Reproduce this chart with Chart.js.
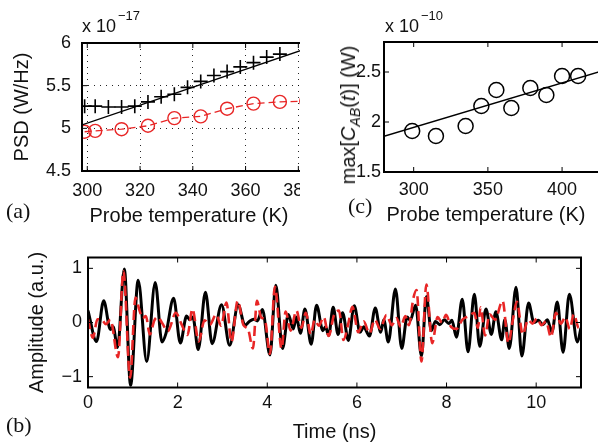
<!DOCTYPE html>
<html><head><meta charset="utf-8">
<script src="https://cdn.jsdelivr.net/npm/chart.js@4.4.1/dist/chart.umd.min.js"></script>
<style>
html,body{margin:0;padding:0;background:#fff;}
#fig{position:relative;width:598px;height:447px;overflow:hidden;font-family:"Liberation Sans",Arial,sans-serif;color:#111;}
.panel{position:absolute;overflow:hidden;}
canvas{display:block;}
.lbl{position:absolute;white-space:nowrap;line-height:1;}
.serif{font-family:"Liberation Serif","Times New Roman",serif;font-size:22px;line-height:22px;}
</style></head><body>
<div id="fig">
  <div class="panel" style="left:0;top:0;width:300px;height:230px"><canvas id="ca" width="310" height="230"></canvas></div>
  <div class="panel" style="left:300px;top:0;width:298px;height:230px"><canvas id="cc" width="310" height="230"></canvas></div>
  <div class="panel" style="left:0;top:230px;width:598px;height:217px"><canvas id="cb" width="598" height="217"></canvas></div>

  <span class="lbl" style="left:82px;top:17px;font-size:18px">x 10</span>
  <span class="lbl" style="left:118px;top:9px;font-size:13px">&minus;17</span>
  <span class="lbl" style="left:385px;top:17px;font-size:18px">x 10</span>
  <span class="lbl" style="left:421px;top:9px;font-size:13px">&minus;10</span>

  <div class="lbl" style="left:350px;top:115px;font-size:20px;transform:translate(-50%,-50%) rotate(-90deg);">max[<i>C</i><sub style="font-size:14px"><i>AB</i></sub>(<i>t</i>)] (W)</div>

  <span class="lbl" style="left:189px;top:215px;transform:translate(-50%,-50%);font-size:20px;">Probe temperature (K)</span>
  <span class="lbl" style="left:486px;top:214px;transform:translate(-50%,-50%);font-size:20px;">Probe temperature (K)</span>

  <span class="lbl serif" style="left:6px;top:200px">(a)</span>
  <span class="lbl serif" style="left:348px;top:195px">(c)</span>
  <span class="lbl serif" style="left:6px;top:414px">(b)</span>
</div>
<script>
// ---------- Panel (a): PSD vs probe temperature ----------
const tempPlus = [299,303,308,313,318,323,328,333,338,343,348,353,358,363,368,373];
const psdPlus  = [5.26,5.26,5.25,5.25,5.26,5.31,5.37,5.40,5.48,5.55,5.62,5.665,5.72,5.77,5.835,5.87];
const tempCirc = [299,303,313,323,333,343,353,363,373,383];
const psdCirc  = [4.96,4.97,4.99,5.03,5.12,5.14,5.23,5.29,5.31,5.32];
const fitTempA = [298,383];
const fitPsdA  = [5.04,5.935];
const xTicksA = [300,320,340,360,380];
const yTicksA = [4.5,5,5.5,6];

// ---------- Panel (c): max C_AB vs probe temperature ----------
const tempC = [299,315,335,345.6,355.7,365.8,378.6,389.4,400,410.8];
const maxC  = [1.91,1.86,1.96,2.16,2.32,2.14,2.34,2.27,2.46,2.46];
const fitTempC = [280,430];
const fitMaxC  = [1.857,2.525];
const xTicksC = [300,350,400];
const yTicksC = [1.5,2,2.5];

// ---------- Panel (b): waveforms ----------
const timeBlack = [0.00,0.19,0.35,0.50,0.56,0.66,0.81,0.95,1.12,1.31,1.50,1.65,1.74,1.91,2.06,2.20,2.27,2.34,2.46,2.62,2.77,2.98,3.16,3.35,3.50,3.60,3.70,3.78,3.89,4.06,4.19,4.34,4.47,4.58,4.65,4.74,4.84,4.98,5.10,5.24,5.30,5.37,5.47,5.58,5.68,5.81,5.94,6.07,6.15,6.28,6.41,6.53,6.60,6.70,6.86,7.00,7.12,7.19,7.31,7.44,7.55,7.66,7.75,7.85,7.95,8.05,8.12,8.22,8.35,8.48,8.62,8.74,8.88,9.00,9.10,9.23,9.30,9.40,9.55,9.68,9.83,9.95,10.05,10.15,10.25,10.35,10.47,10.60,10.74,10.92,11.00];
const ampBlack  = [0.22,-0.35,0.40,-0.13,-0.08,-0.46,0.99,-1.16,0.78,-0.72,0.74,-0.36,-0.20,0.45,-0.38,0.12,0.05,0.10,-0.50,0.56,-0.39,0.33,-0.42,0.33,-0.05,0.02,0.06,0.03,0.24,-0.60,0.69,-0.48,0.15,-0.12,0.10,-0.20,0.25,-0.40,0.32,-0.15,-0.08,-0.24,0.28,-0.22,0.18,-0.33,0.31,-0.18,-0.08,-0.25,0.27,-0.18,0.05,-0.36,0.62,-0.48,0.10,0.04,0.32,-0.62,0.48,-0.15,0.02,-0.04,0.05,-0.02,0.04,-0.27,0.43,-0.54,0.52,-0.44,0.25,-0.22,0.20,-0.32,0.05,-0.48,0.65,-0.62,0.36,0.00,0.04,-0.04,0.05,-0.18,0.38,-0.55,0.52,-0.36,-0.10];
const timeRed = [0.00,0.11,0.21,0.31,0.40,0.50,0.67,0.79,0.94,1.06,1.15,1.22,1.29,1.38,1.48,1.56,1.66,1.78,1.96,2.08,2.22,2.33,2.47,2.60,2.72,2.86,2.97,3.09,3.20,3.34,3.47,3.57,3.68,3.77,3.86,3.95,4.06,4.17,4.32,4.41,4.52,4.65,4.76,4.86,4.97,5.06,5.15,5.26,5.37,5.49,5.60,5.70,5.80,5.90,6.03,6.15,6.28,6.40,6.52,6.66,6.78,6.88,6.98,7.08,7.16,7.26,7.33,7.44,7.55,7.68,7.80,7.90,7.99,8.10,8.22,8.35,8.50,8.62,8.70,8.76,8.86,8.96,9.08,9.25,9.38,9.48,9.57,9.70,9.82,9.92,10.02,10.12,10.22,10.33,10.44,10.55,10.65,10.75,10.84,10.95,11.00];
const ampRed  = [0.06,-0.28,0.06,0.05,-0.03,0.05,-0.64,0.95,-1.02,0.46,0.22,0.08,0.12,-0.22,0.04,0.10,-0.02,-0.16,0.18,-0.02,-0.23,0.25,-0.35,0.04,-0.04,0.15,-0.06,0.37,-0.36,0.40,-0.05,-0.12,-0.48,0.40,0.10,0.04,-0.58,0.66,-0.48,0.20,-0.15,0.22,-0.10,0.18,-0.22,0.05,-0.06,0.10,-0.25,0.14,0.22,-0.32,-0.05,0.29,-0.18,0.02,-0.20,0.05,-0.12,0.14,-0.05,0.08,-0.08,0.12,-0.05,0.45,0.60,-0.72,0.70,-0.38,0.10,0.00,0.14,-0.08,-0.12,0.05,0.12,0.18,-0.10,0.28,-0.24,0.15,0.05,0.40,-0.38,0.05,0.38,-0.22,0.05,-0.02,0.08,-0.05,0.02,-0.27,0.18,-0.02,0.10,-0.12,0.15,-0.10,-0.05];
const xTicksB = [0,2,4,6,8,10];
const yTicksB = [-1,0,1];

// ---------- helpers ----------
const RED = 'rgb(232,38,38)';
const INK = '#111';
const FAM = '"Liberation Sans", Arial, sans-serif';
const pts = (xs, ys) => xs.map((x, i) => ({x: x, y: ys[i]}));
const fmt = v => (v < 0 ? '\u2212' + Math.abs(v) : String(v));

function framePlugin(lw, len) {
  return {
    id: 'frame',
    afterDatasetsDraw(chart) {
      const {ctx, chartArea: a, scales} = chart;
      const sx = scales.x, sy = scales.y;
      ctx.save();
      ctx.strokeStyle = '#000';
      ctx.lineWidth = 1;
      ctx.beginPath();
      sx.ticks.forEach(t => {
        const p = sx.getPixelForValue(t.value);
        ctx.moveTo(p, a.bottom); ctx.lineTo(p, a.bottom - len);
        ctx.moveTo(p, a.top); ctx.lineTo(p, a.top + len);
      });
      sy.ticks.forEach(t => {
        const p = sy.getPixelForValue(t.value);
        ctx.moveTo(a.left, p); ctx.lineTo(a.left + len, p);
        ctx.moveTo(a.right, p); ctx.lineTo(a.right - len, p);
      });
      ctx.stroke();
      ctx.lineWidth = lw;
      ctx.strokeRect(a.left, a.top, a.right - a.left, a.bottom - a.top);
      ctx.restore();
    }
  };
}

function makeOptions(c) {
  return {
    responsive: false,
    animation: false,
    devicePixelRatio: 1,
    layout: {padding: c.pad, autoPadding: false},
    plugins: {legend: {display: false}, tooltip: {enabled: false}},
    scales: {
      x: {
        type: 'linear', min: c.xMin, max: c.xMax,
        afterBuildTicks: s => { s.ticks = c.xTicks.map(v => ({value: v})); },
        afterFit: s => { s.height = c.xH; s.paddingLeft = 0; s.paddingRight = 0; s.paddingTop = 0; s.paddingBottom = 0; },
        grid: {display: c.grid, drawTicks: false, color: 'rgba(0,0,0,0.85)', lineWidth: 1},
        border: {display: false, dash: [1, 5]},
        ticks: {padding: c.xTickPad, color: INK, font: {family: FAM, size: 18}, callback: fmt, maxRotation: 0, autoSkip: false},
        title: {display: !!c.xTitle, text: c.xTitle || '', color: INK, font: {family: FAM, size: 20}, padding: {top: 0, bottom: c.xTitlePad}}
      },
      y: {
        type: 'linear', min: c.yMin, max: c.yMax,
        afterBuildTicks: s => { s.ticks = c.yTicks.map(v => ({value: v})); },
        afterFit: s => { s.width = c.yW; s.paddingLeft = 0; s.paddingRight = 0; s.paddingTop = 0; s.paddingBottom = 0; },
        grid: {display: c.grid, drawTicks: false, color: 'rgba(0,0,0,0.85)', lineWidth: 1},
        border: {display: false, dash: [1, 5]},
        ticks: {padding: c.yTickPad, color: INK, font: {family: FAM, size: 18}, callback: fmt, autoSkip: false},
        title: {display: !!c.yTitle, text: c.yTitle || '', color: INK, font: {family: FAM, size: 20}, padding: {top: c.yTitlePad, bottom: 0}}
      }
    }
  };
}

// Panel (a): plot box runs past the crop at x=300, as in the reference
new Chart(document.getElementById('ca'), {
  type: 'line',
  data: {datasets: [
    {label: 'Linear fit', data: pts(fitTempA, fitPsdA), borderColor: '#000', borderWidth: 1.4, pointRadius: 0, tension: 0},
    {label: 'PSD (+)', data: pts(tempPlus, psdPlus), showLine: false, pointStyle: 'cross', pointRadius: 7, borderColor: '#000', pointBorderColor: '#000', pointBorderWidth: 1.6},
    {label: 'PSD (o)', data: pts(tempCirc, psdCirc), borderColor: RED, borderWidth: 1.3, borderDash: [7, 4], tension: 0,
     pointStyle: 'circle', pointRadius: 6.5, pointBorderColor: RED, pointBackgroundColor: 'rgba(255,255,255,0)', pointBorderWidth: 1.4}
  ]},
  options: makeOptions({pad: {left: 0, top: 43, right: 4, bottom: 0}, xH: 59, yW: 82,
    xMin: 298, xMax: 382.9, yMin: 4.5, yMax: 6, xTicks: xTicksA, yTicks: yTicksA, grid: true,
    xTickPad: 9, yTickPad: 11, xTitle: '', yTitle: 'PSD (W/Hz)', xTitlePad: 3, yTitlePad: 10}),
  plugins: [framePlugin(2, 5)]
});

// Panel (c): plot box runs past the crop at x=598
new Chart(document.getElementById('cc'), {
  type: 'line',
  data: {datasets: [
    {label: 'Linear fit', data: pts(fitTempC, fitMaxC), borderColor: '#000', borderWidth: 1.4, pointRadius: 0, tension: 0},
    {label: 'max C_AB', data: pts(tempC, maxC), showLine: false, pointStyle: 'circle', pointRadius: 7.5,
     pointBorderColor: '#000', pointBackgroundColor: 'rgba(255,255,255,0)', pointBorderWidth: 1.5}
  ]},
  options: makeOptions({pad: {left: 0, top: 42, right: 4, bottom: 0}, xH: 58, yW: 84,
    xMin: 280, xMax: 429.6, yMin: 1.5, yMax: 2.8, xTicks: xTicksC, yTicks: yTicksC, grid: false,
    xTickPad: 7, yTickPad: 3, xTitle: '', yTitle: '', xTitlePad: 4, yTitlePad: 0}),
  plugins: [framePlugin(2, 5)]
});

// Panel (b)
new Chart(document.getElementById('cb'), {
  type: 'line',
  data: {datasets: [
    {label: 'Red (dashed)', order: 0, data: pts(timeRed, ampRed), borderColor: RED, borderWidth: 2.6, borderDash: [10, 5], pointRadius: 0, cubicInterpolationMode: 'monotone'},
    {label: 'Black', order: 1, data: pts(timeBlack, ampBlack), borderColor: '#000', borderWidth: 3, pointRadius: 0, cubicInterpolationMode: 'monotone'}
  ]},
  options: makeOptions({pad: {left: 0, top: 27.5, right: 17, bottom: 0}, xH: 59.5, yW: 88,
    xMin: 0, xMax: 11, yMin: -1.2, yMax: 1.2, xTicks: xTicksB, yTicks: yTicksB, grid: false,
    xTickPad: 5, yTickPad: 6, xTitle: 'Time (ns)', yTitle: 'Amplitude (a.u.)', xTitlePad: 3, yTitlePad: 25.5}),
  plugins: [framePlugin(2, 5)]
});
</script>
</body></html>
